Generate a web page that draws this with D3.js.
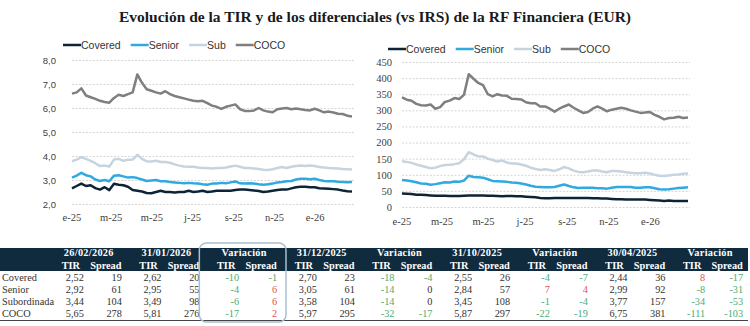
<!DOCTYPE html>
<html>
<head>
<meta charset="utf-8">
<script src="https://cdn.jsdelivr.net/npm/d3@7/dist/d3.min.js"></script>
<style>
	body { margin: 0; background: #fff; }
	svg { display: block; }
</style>
</head>
<body>
<div id="viz"></div>
<script>

//==============================================================================
// Data (weekly observations from 02/01/2025 to 26/02/2026)
var startDate = "2025-01-02";
var seriesNames = ["Covered", "Senior", "Sub", "COCO"];
var seriesColors = ["#0d2436", "#2fa9e0", "#c6d4df", "#7f7f7f"];

var tirCovered = [2.65,2.75,2.85,2.75,2.78,2.66,2.60,2.70,2.58,2.84,2.80,2.78,2.72,2.58,2.55,2.52,2.46,2.45,2.50,2.55,
	2.50,2.50,2.48,2.50,2.50,2.55,2.50,2.52,2.55,2.50,2.52,2.55,2.55,2.55,2.55,2.58,2.60,2.60,2.58,2.56,
	2.54,2.50,2.52,2.55,2.58,2.60,2.60,2.65,2.70,2.72,2.72,2.70,2.70,2.66,2.65,2.64,2.62,2.60,2.56,2.53,2.52];
var tirSenior = [3.10,3.18,3.30,3.20,3.15,3.02,2.96,3.00,2.95,3.18,3.20,3.15,3.10,3.12,3.08,3.02,2.96,2.98,3.00,2.95,
	2.95,2.92,2.90,2.88,2.86,2.88,2.86,2.85,2.82,2.80,2.85,2.85,2.88,2.86,2.90,2.94,2.86,2.85,2.86,2.85,
	2.82,2.80,2.82,2.85,2.90,2.92,2.95,2.96,3.02,3.05,3.05,3.03,3.05,3.00,2.96,2.95,2.95,2.93,2.92,2.91,2.92];
var tirSub = [3.78,3.85,3.95,3.88,3.80,3.70,3.58,3.60,3.56,3.85,3.88,3.80,3.84,3.85,4.05,3.88,3.78,3.77,3.80,3.75,
	3.75,3.72,3.65,3.60,3.56,3.55,3.55,3.52,3.50,3.50,3.48,3.50,3.50,3.52,3.56,3.60,3.55,3.50,3.50,3.48,
	3.46,3.43,3.42,3.45,3.50,3.54,3.50,3.55,3.58,3.60,3.58,3.60,3.58,3.54,3.52,3.50,3.49,3.48,3.46,3.45,3.44];
var tirCoco = [6.60,6.65,6.82,6.52,6.45,6.38,6.30,6.25,6.22,6.42,6.55,6.50,6.58,6.65,7.40,7.05,6.78,6.72,6.65,6.60,
	6.70,6.58,6.50,6.45,6.40,6.35,6.30,6.28,6.30,6.20,6.10,6.05,5.96,6.05,6.10,6.15,5.95,5.88,5.87,5.90,
	6.00,5.90,5.85,5.82,5.95,5.98,6.00,5.95,5.98,5.95,5.92,5.90,5.97,5.90,5.82,5.85,5.81,5.76,5.75,5.68,5.65];

var spreadCovered = [42,41,40,38,38,37,36,35,35,35,34,34,34,35,36,36,36,36,35,35,
	34,33,34,34,33,33,32,31,30,28,27,27,28,28,28,28,28,28,28,28,
	27,27,26,26,25,24,24,23,23,23,23,23,22,21,20,19,20,19,19,19,19];
var spreadSenior = [84,82,80,77,73,72,69,71,74,77,76,79,78,82,97,93,92,91,86,81,
	80,79,78,76,75,73,70,66,63,62,61,61,62,66,70,65,61,59,60,60,
	60,58,58,57,60,62,62,62,62,60,60,61,61,58,55,54,55,57,59,60,61];
var spreadSub = [142,140,137,132,128,124,120,122,127,130,131,133,136,148,170,163,157,157,150,146,
	141,144,138,135,135,132,128,122,118,115,117,115,112,117,124,120,113,109,108,110,
	113,113,110,108,112,112,110,108,106,105,105,106,104,100,97,96,98,100,101,103,104];
var spreadCoco = [340,333,330,320,316,315,318,305,310,326,330,338,335,348,412,398,385,378,350,343,
	350,346,345,336,335,334,325,322,322,312,312,305,296,305,312,318,308,300,292,295,
	305,312,305,297,302,305,308,305,300,296,292,293,295,286,280,272,276,277,280,276,278];

var monthLabels = ["e-25", "m-25", "m-25", "j-25", "s-25", "n-25", "e-26"];
var tirTicks = [2, 3, 4, 5, 6, 7, 8];
var spreadTicks = [0, 50, 100, 150, 200, 250, 300, 350, 400, 450];

// Table
var rowNames = ["Covered", "Senior", "Subordinada", "COCO"];
var colHeaders = ["26/02/2026", "31/01/2026", "Variación", "31/12/2025", "Variación", "31/10/2025", "Variación", "30/04/2025", "Variación"];
var tirValues = [
	[2.52, 2.92, 3.44, 5.65],
	[2.62, 2.95, 3.49, 5.81],
	[-10, -4, -6, -17],
	[2.70, 3.05, 3.58, 5.97],
	[-18, -14, -14, -32],
	[2.55, 2.84, 3.45, 5.87],
	[-4, 7, -1, -22],
	[2.44, 2.99, 3.77, 6.75],
	[8, -8, -34, -111]
];
var spreadValues = [
	[19, 61, 104, 278],
	[20, 55, 98, 276],
	[-1, 6, 6, 2],
	[23, 61, 104, 295],
	[-4, 0, 0, -17],
	[26, 57, 108, 297],
	[-7, 4, -4, -19],
	[36, 92, 157, 381],
	[-17, -31, -53, -103]
];


//==============================================================================
// Initial variables
var width = 750;
var height = 326;
var sans = "'Liberation Sans', Arial, sans-serif";
var serif = "'Liberation Serif', 'Times New Roman', serif";
var navy = "#102b3e";
var green = "#4fab72", red = "#e05656";

var es = d3.formatLocale({decimal: ",", thousands: ".", grouping: [3], currency: ["", "€"]});
var fmt1 = es.format(".1f"), fmt2 = es.format(".2f");

var parseDate = d3.timeParse("%Y-%m-%d");
var start = parseDate(startDate);
var dates = tirCovered.map(function(d, i) { return d3.timeDay.offset(start, 7 * i) });
var tickDates = d3.timeMonth.every(2).range(new Date(2025, 0, 1), new Date(2026, 1, 1));

var svg = d3.select("#viz")
	.append("svg")
	.attr("width", width)
	.attr("height", height);

svg.append("rect")
	.attr("width", width)
	.attr("height", height)
	.attr("fill", "#fff");

// Title
svg.append("text")
	.attr("x", width / 2)
	.attr("y", 22)
	.attr("text-anchor", "middle")
	.attr("font-family", serif)
	.attr("font-weight", "bold")
	.attr("font-size", "15.5px")
	.attr("fill", "#1a1a1a")
	.text("Evolución de la TIR y de los diferenciales (vs IRS) de la RF Financiera (EUR)");


//==============================================================================
// Line charts
var make_chart = function(cfg) {
	var x = d3.scaleTime()
		.domain([dates[0], dates[dates.length - 1]])
		.range(cfg.xr);
	var y = d3.scaleLinear()
		.domain(cfg.domain)
		.range(cfg.yr);

	var g = svg.append("g");

	// gridlines + y labels
	var yAxis = d3.axisLeft(y)
		.tickValues(cfg.ticks)
		.tickSize(-(cfg.xr[1] - cfg.xr[0] + 2))
		.tickPadding(cfg.xr[0] - cfg.labelX)
		.tickFormat(cfg.format);
	g.append("g")
		.attr("transform", "translate(" + cfg.xr[0] + ",0)")
		.call(yAxis)
		.call(function(a) {
			a.select(".domain").remove();
			a.selectAll("line").attr("stroke", "#d6d6d6").attr("stroke-dasharray", "2,1.5");
			a.selectAll("text")
				.attr("font-family", cfg.yFont)
				.attr("font-size", cfg.yFontSize)
				.attr("fill", "#404040");
		});

	// month labels
	var xAxis = d3.axisBottom(x)
		.tickValues(tickDates)
		.tickSize(0)
		.tickPadding(0)
		.tickFormat(function(d, i) { return monthLabels[i] });
	g.append("g")
		.attr("transform", "translate(0," + cfg.labelY + ")")
		.call(xAxis)
		.call(function(a) {
			a.select(".domain").remove();
			a.selectAll("text")
				.attr("dy", 0)
				.attr("font-family", serif)
				.attr("font-size", "10.5px")
				.attr("fill", "#404040");
		});

	// lines
	var line = d3.line()
		.x(function(d, i) { return x(dates[i]) })
		.y(function(d) { return y(d) });
	g.selectAll("path.series")
		.data(cfg.series)
		.enter().append("path")
		.attr("class", "series")
		.attr("d", line)
		.attr("fill", "none")
		.attr("stroke", function(d, i) { return seriesColors[i] })
		.attr("stroke-width", 2.5)
		.attr("stroke-linejoin", "round");

	// legend
	var lx = cfg.legend[0];
	seriesNames.forEach(function(name, i) {
		g.append("line")
			.attr("x1", lx).attr("x2", lx + 18)
			.attr("y1", cfg.legend[1]).attr("y2", cfg.legend[1])
			.attr("stroke", seriesColors[i])
			.attr("stroke-width", 2.5);
		var t = g.append("text")
			.attr("x", lx + 18)
			.attr("y", cfg.legend[1] + 3.5)
			.attr("font-family", sans)
			.attr("font-size", "10.5px")
			.attr("fill", "#333")
			.text(name);
		lx += 18 + t.node().getComputedTextLength() + 10;
	});
};

make_chart({
	xr: [72, 352], yr: [204, 60], domain: [2, 8], ticks: tirTicks,
	format: fmt1, labelX: 56, labelY: 221, yFont: sans, yFontSize: "9.5px",
	series: [tirCovered, tirSenior, tirSub, tirCoco], legend: [63, 45]
});

make_chart({
	xr: [402, 688], yr: [207, 62], domain: [0, 450], ticks: spreadTicks,
	format: d3.format("d"), labelX: 392, labelY: 225, yFont: serif, yFontSize: "10.5px",
	series: [spreadCovered, spreadSenior, spreadSub, spreadCoco], legend: [388, 49]
});


//==============================================================================
// Table
var groupScale = d3.scaleBand()
	.domain(d3.range(colHeaders.length))
	.range([50, 749]);
var center = function(i) { return groupScale(i) + groupScale.bandwidth() / 2 };
var rowScale = d3.scalePoint()
	.domain(rowNames)
	.range([281, 317]);

var table = svg.append("g")
	.attr("font-family", serif)
	.attr("font-size", "10.3px");

table.append("rect")
	.attr("x", 0).attr("y", 248)
	.attr("width", 748).attr("height", 23)
	.attr("fill", navy);

table.append("line")
	.attr("x1", 0).attr("x2", 748)
	.attr("y1", 320.5).attr("y2", 320.5)
	.attr("stroke", "#444")
	.attr("stroke-width", 1);

// group headers
table.selectAll("text.group")
	.data(colHeaders)
	.enter().append("text")
	.attr("class", "group")
	.attr("x", function(d, i) { return center(i) })
	.attr("y", 256)
	.attr("text-anchor", "middle")
	.attr("font-weight", "bold")
	.attr("letter-spacing", "0.3px")
	.attr("fill", "#fff")
	.text(function(d) { return d });

colHeaders.forEach(function(h, i) {
	table.append("text")
		.attr("x", center(i) - 18).attr("y", 269)
		.attr("text-anchor", "middle")
		.attr("font-weight", "bold")
		.attr("fill", "#fff")
		.text("TIR");
	table.append("text")
		.attr("x", center(i) + 17).attr("y", 269)
		.attr("text-anchor", "middle")
		.attr("font-weight", "bold")
		.attr("fill", "#fff")
		.text("Spread");

	var isVar = (h === "Variación");
	var color = function(v) {
		if (!isVar) return "#333";
		return v > 0 ? red : (v < 0 ? green : "#333");
	};
	rowNames.forEach(function(r, j) {
		var tv = tirValues[i][j], sv = spreadValues[i][j];
		table.append("text")
			.attr("x", center(i) - 5).attr("y", rowScale(r))
			.attr("text-anchor", "end")
			.attr("fill", color(tv))
			.text(isVar ? tv : fmt2(tv));
		table.append("text")
			.attr("x", center(i) + 33).attr("y", rowScale(r))
			.attr("text-anchor", "end")
			.attr("fill", color(sv))
			.text(sv);
	});
});

// row labels
table.selectAll("text.row")
	.data(rowNames)
	.enter().append("text")
	.attr("class", "row")
	.attr("x", 2)
	.attr("y", function(d) { return rowScale(d) })
	.attr("fill", "#333")
	.text(function(d) { return d });

// highlight box round the first variation
table.append("rect")
	.attr("x", groupScale(2) - 6)
	.attr("y", 243)
	.attr("width", groupScale.bandwidth() + 9)
	.attr("height", 79)
	.attr("rx", 7)
	.attr("fill", "none")
	.attr("stroke", "#a9bfcf")
	.attr("stroke-width", 1.5);

</script>
</body>
</html>
